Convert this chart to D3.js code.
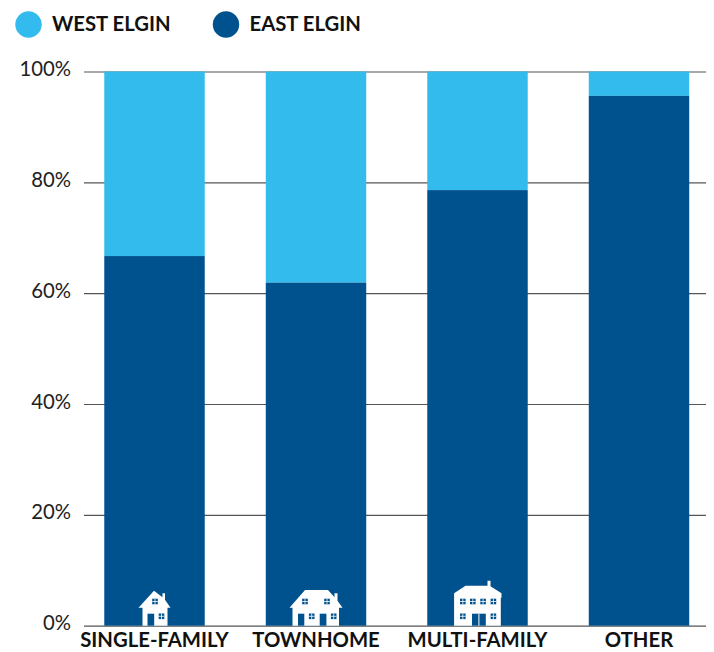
<!DOCTYPE html>
<html><head><meta charset="utf-8">
<script src="https://cdn.jsdelivr.net/npm/d3@7"></script>
<style>html,body{margin:0;padding:0;background:#fff}svg{display:block}
text{font-family:Lato,sans-serif}</style></head><body>
<svg id="c" width="714" height="652"></svg>
<script>
const categories = ["SINGLE-FAMILY","TOWNHOME","MULTI-FAMILY","OTHER"];
const eastElgin = [66.7,61.9,78.6,95.6];
const westElgin = [33.3,38.1,21.4,4.4];
const seriesNames = ["WEST ELGIN","EAST ELGIN"];
const yTicks = [0,20,40,60,80,100];
const COL_W="#33bbee", COL_E="#00528f";

const svg=d3.select("#c");
const y=d3.scaleLinear().domain([0,100]).range([625.7,71.5]);
const x=d3.scaleBand().domain(categories).range([73.75,719.75]).paddingInner(0.378).paddingOuter(0.189);

// y axis + gridlines
const axis=d3.axisLeft(y).tickValues(yTicks).tickFormat(d=>d+"%").tickSize(622).tickPadding(13);
const g=svg.append("g").attr("transform","translate(706,0)").call(axis);
g.select(".domain").remove();
g.selectAll(".tick line").attr("stroke","#555").attr("stroke-width",1.2);
g.selectAll(".tick text").attr("fill","#222").attr("font-size",20.3).attr("font-weight",400)
 .attr("dy","0.2em").attr("x",-635).attr("text-anchor","end");

// bars
const rows=categories.map((c,i)=>({c,east:eastElgin[i],west:westElgin[i]}));
svg.append("g").selectAll("rect").data(rows).join("rect")
 .attr("x",d=>x(d.c)).attr("width",x.bandwidth())
 .attr("y",d=>y(d.east+d.west)).attr("height",d=>y(d.east)-y(d.east+d.west)).attr("fill",COL_W);
svg.append("g").selectAll("rect").data(rows).join("rect")
 .attr("x",d=>x(d.c)).attr("width",x.bandwidth())
 .attr("y",d=>y(d.east)).attr("height",d=>y(0)-y(d.east)).attr("fill",COL_E);

// category labels
svg.append("g").selectAll("text").data(categories).join("text")
 .attr("x",d=>x(d)+x.bandwidth()/2).attr("y",647).attr("text-anchor","middle")
 .attr("font-size",20.3).attr("font-weight",700).attr("fill","#111").text(d=>d);

// legend
const lg=svg.append("g").selectAll("g").data(seriesNames).join("g")
 .attr("transform",(d,i)=>`translate(${28.5+i*197.5},24.5)`);
lg.append("circle").attr("r",13.2).attr("fill",(d,i)=>i?COL_E:COL_W);
lg.append("text").attr("x",23.5).attr("y",6.8).attr("font-size",20.3).attr("font-weight",700).attr("fill","#111").text(d=>d);

// house pictograms, local units: origin at bar centre on the baseline
const win=(cx,cy)=>({cx,cy});
const icons={
 "SINGLE-FAMILY":{
  body:"M-0.5,-35 L8,-28.5 L8,-32.5 L10.5,-32.5 L10.5,-26 L16,-18 L13,-18 L13,0 L-12,0 L-12,-18 L-16,-18 Z",
  doors:[[-7,-12,6.7]],
  wins:[win(0.5,-24.2),win(7,-9.4)]},
 "TOWNHOME":{
  body:"M-11,-35.7 L12,-35.7 L18.5,-28.5 L18.5,-32.5 L21.5,-32.5 L21.5,-25 L26.5,-18 L23,-18 L23,0 L-23.5,0 L-23.5,-18 L-26.5,-18 Z",
  doors:[[-18,-12,6.3],[3.7,-12,6.7]],
  wins:[win(-11,-24.2),win(11,-24.2),win(-4.3,-9.4),win(17.7,-9.4)]},
 "MULTI-FAMILY":{
  body:"M-12,-40 L10,-40 L10,-45 L13,-45 L13,-39.5 L24,-32.5 L24,-28 L23.3,-28 L23.3,0 L-23.4,0 L-23.4,-32.5 Z",
  doors:[[-5.5,-12,13.8]],
  wins:[win(-14.7,-24.2),win(-4.7,-24.2),win(5.6,-24.2),win(15.9,-24.2),win(-14.7,-9.4),win(15.9,-9.4)]}
};
const ig=svg.append("g").selectAll("g").data(categories.filter(c=>icons[c])).join("g")
 .attr("transform",d=>`translate(${x(d)+x.bandwidth()/2},${y(0)})`);
ig.append("path").attr("d",d=>icons[d].body).attr("fill","#fff");
ig.each(function(d){
 const s=d3.select(this),ic=icons[d];
 ic.doors.forEach(([dx,dy,w])=>{
  s.append("rect").attr("x",dx).attr("y",dy).attr("width",w).attr("height",-dy).attr("fill",COL_E);
  if(w>10) s.append("rect").attr("x",dx+w/2-.5).attr("y",dy).attr("width",1).attr("height",-dy).attr("fill","#fff");
 });
 ic.wins.forEach(w=>{
  s.append("rect").attr("x",w.cx-2.8).attr("y",w.cy-2.8).attr("width",5.6).attr("height",5.6).attr("fill",COL_E);
  s.append("path").attr("d",`M${w.cx},${w.cy-2.8}V${w.cy+2.8}M${w.cx-2.8},${w.cy}H${w.cx+2.8}`).attr("stroke","#fff").attr("stroke-width",.8);
 });
});
</script></body></html>
